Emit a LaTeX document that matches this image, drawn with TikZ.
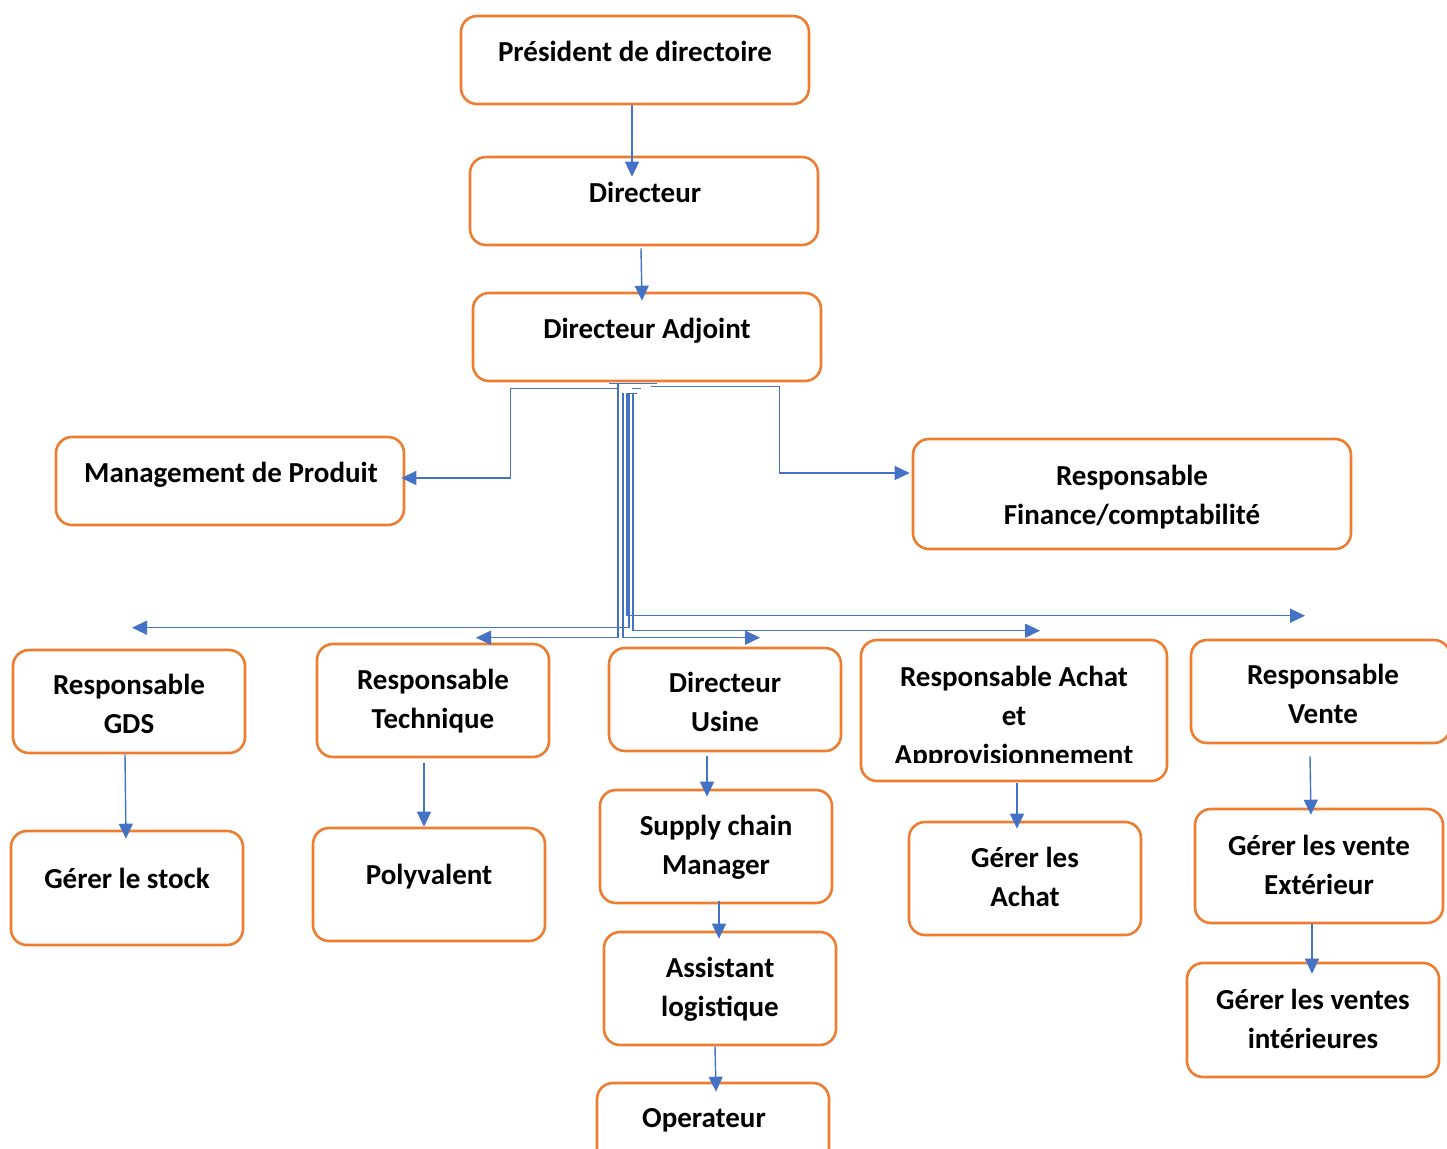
\documentclass[tikz,border=0pt]{standalone}
\usepackage{fontspec}
\setmainfont{Carlito}
\usetikzlibrary{arrows.meta,calc}
\definecolor{boxorange}{HTML}{ED7D31}
\definecolor{linkblue}{HTML}{4472C4}
\tikzset{
  box/.style={draw=boxorange, line width=1.3pt, rounded corners=8pt, fill=white, inner sep=0pt},
  % multi-line labels are placed by the baseline of their last line
  lbl/.style={anchor=base, align=center, inner sep=0pt, font=\bfseries\fontsize{14.5}{19.5}\selectfont},
  link/.style={draw=linkblue, line width=0.7pt},
  arr/.style={link, -{Triangle[length=7.5pt,width=7pt]}},
}
\newcommand{\orgbox}[5]{% name, cx, cy, width(px), height(px)
  \node[box, minimum width=#4*0.5pt, minimum height=#5*0.5pt] (#1) at (#2,#3) {};}
\begin{document}
\begin{tikzpicture}[x=0.5pt, y=-0.5pt]
\clip (0,0) rectangle (1447,1148);
\fill[white] (0,0) rectangle (1447,1148);

% boxes
\orgbox{pres}{635}{60}{348}{88}
\orgbox{dir}{644}{201}{348}{88}
\orgbox{adj}{647}{337}{348}{88}
\orgbox{mgmt}{230}{481}{348}{88}
\orgbox{fin}{1132}{494}{438}{110}
\orgbox{gds}{129}{701.5}{232}{103}
\orgbox{tech}{433}{700.5}{232}{113}
\orgbox{usine}{725}{699.5}{232}{103}
\orgbox{achat}{1014}{710.5}{306}{141}
\orgbox{vente}{1320.5}{691.5}{259}{103}
\orgbox{stock}{127}{888}{232}{114}
\orgbox{poly}{429}{884.5}{232}{113}
\orgbox{supply}{716}{846.5}{232}{113}
\orgbox{asst}{720}{988.5}{232}{113}
\orgbox{oper}{713}{1139.5}{232}{113}
\orgbox{gachat}{1025}{878.5}{232}{113}
\orgbox{gext}{1319}{866}{248}{114}
\orgbox{gint}{1313}{1020}{252}{114}

% labels
\node[lbl] (pres-t) at (635,61) {Président de directoire};
\node[lbl] (dir-t) at (645,202) {Directeur};
\node[lbl] (adj-t) at (647,338) {Directeur Adjoint};
\node[lbl] (mgmt-t) at (231,482) {Management de Produit};
\node[lbl] (fin-t) at (1132,524) {Responsable\\Finance/comptabilité};
\node[lbl] (gds-t) at (129,733) {Responsable\\GDS};
\node[lbl] (tech-t) at (433,728) {Responsable\\Technique};
\node[lbl] (usine-t) at (725,731) {Directeur\\Usine};
\begin{scope}
  \clip (861,640) rectangle (1167,762);
  \node[lbl] (achat-t) at (1014,764) {Responsable Achat\\et\\Approvisionnement};
\end{scope}
\node[lbl] (vente-t) at (1323,723) {Responsable\\Vente};
\node[lbl] (stock-t) at (127,888) {Gérer le stock};
\node[lbl] (poly-t) at (429,884) {Polyvalent};
\node[lbl] (supply-t) at (716,874) {Supply chain\\Manager};
\node[lbl] (asst-t) at (720,1016) {Assistant\\logistique};
\node[lbl] (oper-t) at (704,1127) {Operateur};
\node[lbl] (gachat-t) at (1025,906) {Gérer les\\Achat};
\node[lbl] (gext-t) at (1319,894) {Gérer les vente\\Extérieur};
\node[lbl] (gint-t) at (1313,1048) {Gérer les ventes\\intérieures};

% top of the chain
\draw[arr] ($(pres.south)+(-3,0)$) -- ($(dir.north)+(-12,21)$);
\draw[arr] ($(dir.south)+(-3,2)$) -- ($(adj.north)+(-5,9)$);

% side branches of the deputy director
\draw[arr] ($(adj.south)+(-29,6)$) -| ($(mgmt.east)+(105,-3)$) -- ($(mgmt.east)+(-4,-3)$);
\draw[arr] ($(adj.south)+(4,4)$) -| ($(fin.west)+(-132,-21)$) -- ($(fin.west)+(-2,-21)$);

% bundle of lines down to the department heads
\draw[link] ($(adj.south)+(-38,1)$) -- ($(adj.south)+(10,1)$);
\draw[link] ($(adj.south)+(-20,11)$) -- ($(adj.south)+(-10,11)$);
\draw[link] ($(adj.south)+(-15,6)$) -- ($(adj.south)+(-6,6)$);
\draw[arr] ($(adj.south)+(-29,1)$) |- ($(tech.north)+(43,-5)$);
\draw[arr] ($(adj.south)+(-24,11)$) |- ($(usine.north)+(35,-9)$);
\draw[arr] ($(adj.south)+(-18,11)$) |- ($(gds.north)+(3,-21)$);
\draw[arr] ($(adj.south)+(-20,11)$) |- ($(vente.north)+(-15.5,-23)$);
\draw[arr] ($(adj.south)+(-14,11)$) |- ($(achat.north)+(26,-8)$);

% lower levels
\draw[arr] ($(gds.south)+(-4,0)$) -- ($(stock.north)+(-1,9)$);
\draw[arr] ($(tech.south)+(-9,5)$) -- ($(poly.north)+(-5,0)$);
\draw[arr] ($(usine.south)+(-18,4)$) -- ($(supply.north)+(-9,8)$);
\draw[arr] ($(supply.south)+(3,-3)$) -- ($(asst.north)+(-1,8)$);
\draw[arr] ($(asst.south)+(-5,0)$) -- ($(oper.north)+(3,10)$);
\draw[arr] ($(achat.south)+(3,1)$) -- ($(gachat.north)+(-8,8)$);
\draw[arr] ($(vente.south)+(-10.5,12)$) -- ($(gext.north)+(-8,7)$);
\draw[arr] ($(gext.south)+(-7,0)$) -- ($(gint.north)+(-1,12)$);
\end{tikzpicture}
\end{document}
